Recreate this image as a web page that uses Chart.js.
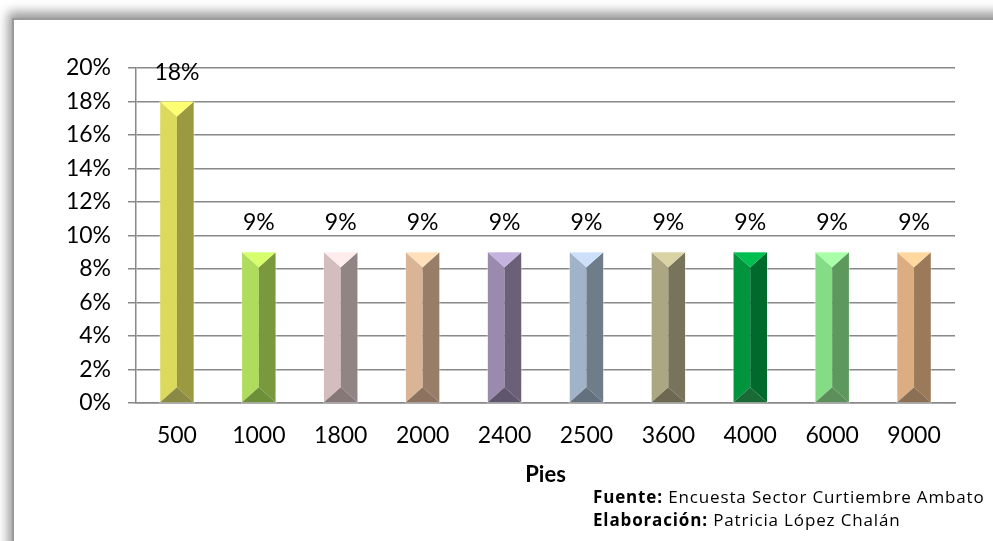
<!DOCTYPE html>
<html lang="es">
<head>
    <meta charset="UTF-8">
    <title>Pies</title>
    <script src="https://cdn.jsdelivr.net/npm/chart.js"></script>
    <style>
        body {
            margin: 0;
            width: 993px;
            height: 541px;
            overflow: hidden;
            background: #fff;
            font-family: Lato, "Open Sans", sans-serif;
            position: relative;
        }
        .frame {
            position: absolute;
            left: 12px;
            top: 18px;
            width: 1100px;
            height: 700px;
            border: 2px solid #9a9a9a;
            background: #fff;
            box-shadow: -4px -6px 10px rgba(0, 0, 0, 0.4);
        }
        #wrap {
            position: absolute;
            left: 0;
            top: 0;
            width: 993px;
            height: 541px;
        }
        .note {
            position: absolute;
            left: 593px;
            font-family: "Open Sans", sans-serif;
            font-size: 17px;
            letter-spacing: 0.85px;
            color: #000;
            white-space: nowrap;
        }
        .note b { font-weight: 700; }
    </style>
</head>
<body>
    <div class="frame"></div>
    <div id="wrap"><canvas id="myChart"></canvas></div>
    <div class="note" style="top:485px"><b>Fuente:</b> Encuesta Sector Curtiembre Ambato</div>
    <div class="note" style="top:508px"><b>Elaboración:</b> Patricia López Chalán</div>

    <script>
        const categories = ['500', '1000', '1800', '2000', '2400', '2500', '3600', '4000', '6000', '9000'];
        const values = [18, 9, 9, 9, 9, 9, 9, 9, 9, 9];
        const yTicks = [0, 2, 4, 6, 8, 10, 12, 14, 16, 18, 20];

        // face colours per bar: left, right, top, bottom
        const leftFace   = ['#dcda5c', '#b0dc5e', '#d3bdbd', '#d9b596', '#9a8aad', '#a1b3c8', '#aca682', '#00943d', '#84dc84', '#dcad80'];
        const rightFace  = ['#9b9a40', '#7a993c', '#918584', '#987d69', '#6c6079', '#6f7d8b', '#78745c', '#006a2d', '#5d995d', '#9a7a5a'];
        const topFace    = ['#ffff73', '#d6ff6e', '#ffeded', '#ffe0ba', '#c4b3de', '#cce0fa', '#d8d2a4', '#00bf50', '#a8ffa8', '#ffd89f'];
        const bottomFace = ['#8b8a45', '#6e8f3a', '#857877', '#8c725f', '#5f556c', '#63707d', '#6c6852', '#1a6a35', '#5c8f5c', '#8c7055'];

        const FONT = 'Lato, "Open Sans", sans-serif';

        function poly(ctx, pts, color) {
            ctx.beginPath();
            ctx.moveTo(pts[0][0], pts[0][1]);
            for (let i = 1; i < pts.length; i++) ctx.lineTo(pts[i][0], pts[i][1]);
            ctx.closePath();
            ctx.fillStyle = color;
            ctx.fill();
        }

        const bevelBars = {
            id: 'bevelBars',
            afterDatasetsDraw(chart) {
                const ctx = chart.ctx;
                const meta = chart.getDatasetMeta(0);
                ctx.save();
                meta.data.forEach((bar, i) => {
                    const L = bar.x - bar.width / 2, R = bar.x + bar.width / 2;
                    const T = bar.y, B = bar.base, cx = bar.x;
                    const d = Math.min(15, (B - T) / 2);
                    poly(ctx, [[L, T], [cx, T + d], [cx, B - d], [L, B]], leftFace[i]);
                    poly(ctx, [[R, T], [cx, T + d], [cx, B - d], [R, B]], rightFace[i]);
                    poly(ctx, [[L, T], [R, T], [cx, T + d]], topFace[i]);
                    poly(ctx, [[L, B], [R, B], [cx, B - d]], bottomFace[i]);
                    ctx.strokeStyle = 'rgba(255,255,255,0.35)';
                    ctx.lineWidth = 1;
                    ctx.strokeRect(L - 0.5, T - 0.5, R - L + 1, B - T + 1);

                    ctx.fillStyle = '#000';
                    ctx.font = '23px ' + FONT;
                    ctx.textAlign = 'center';
                    ctx.textBaseline = 'alphabetic';
                    ctx.fillText(values[i] + '%', cx, T - 22);
                });
                ctx.restore();
            }
        };

        const ctx = document.getElementById('myChart').getContext('2d');
        new Chart(ctx, {
            type: 'bar',
            data: {
                labels: categories,
                datasets: [{
                    data: values,
                    backgroundColor: 'rgba(0,0,0,0)',
                    barPercentage: 0.41,
                    categoryPercentage: 1
                }]
            },
            options: {
                responsive: true,
                maintainAspectRatio: false,
                animation: false,
                events: [],
                layout: { padding: { left: 0, right: 38, top: 68, bottom: 0 } },
                plugins: {
                    legend: { display: false },
                    tooltip: { enabled: false }
                },
                scales: {
                    x: {
                        afterFit: s => { s.height = 138; },
                        grid: { display: false, drawTicks: false },
                        border: { display: true, color: '#888', width: 1.5 },
                        ticks: { color: '#000', font: { size: 23, family: FONT }, padding: 19 },
                        title: {
                            display: true,
                            text: 'Pies',
                            color: '#000',
                            font: { size: 22, weight: 'bold', family: FONT },
                            padding: { top: 0, bottom: 53 }
                        }
                    },
                    y: {
                        min: 0,
                        max: 20,
                        afterFit: s => { s.width = 136; },
                        afterBuildTicks: s => { s.ticks = yTicks.map(v => ({ value: v })); },
                        grid: { color: '#888', lineWidth: 1.5, tickLength: 8 },
                        border: { display: true, color: '#888', width: 1.5 },
                        ticks: {
                            color: '#000',
                            font: { size: 23, family: FONT },
                            padding: 17,
                            callback: v => v + '%'
                        }
                    }
                }
            },
            plugins: [bevelBars]
        });
    </script>
</body>
</html>
